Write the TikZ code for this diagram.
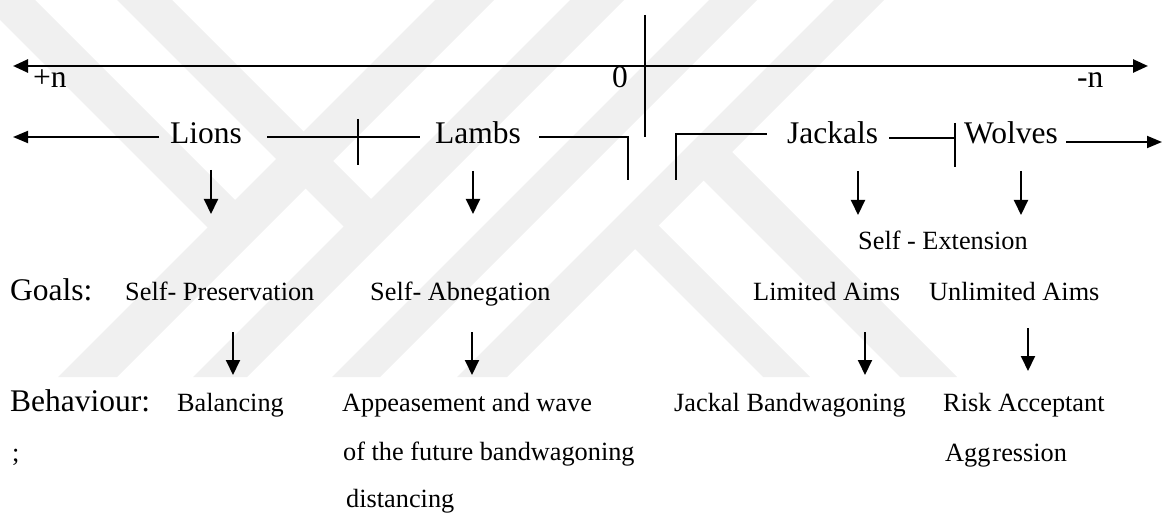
\documentclass[tikz,border=0pt]{standalone}
\usepackage{fontspec}
\setmainfont{Liberation Serif}
\usetikzlibrary{arrows.meta,calc}

\tikzset{
  big/.style={font=\fontsize{31.5}{36}\selectfont, inner sep=0pt, anchor=base west},
  small/.style={font=\fontsize{26.3}{30}\selectfont, inner sep=0pt, anchor=base west},
  axisline/.style={line width=2.6pt, {Triangle[length=15pt,width=13pt]}-{Triangle[length=15pt,width=13pt]}},
  seg/.style={line width=1.8pt},
  segarrow/.style={seg, -{Triangle[length=15pt,width=12pt]}},
  down/.style={line width=2pt, -{Triangle[length=15pt,width=14pt]}},
  emblem/.style={fill=black!6},
}

\begin{document}
\begin{tikzpicture}[x=1pt, y=-1pt]
  \useasboundingbox (0,0) rectangle (1168,513);

  % faint striped emblem in the background
  \begin{scope}
    \clip (0,0) rectangle (1168,513);
    \fill[emblem] (58,377) -- (117,377) -- (494,0) -- (435,0) -- cycle;
    \fill[emblem] (193,377) -- (247,377) -- (624,0) -- (570,0) -- cycle;
    \fill[emblem] (332,377) -- (380,377) -- (757,0) -- (709,0) -- cycle;
    \fill[emblem] (457,377) -- (507,377) -- (884,0) -- (834,0) -- cycle;
    \fill[emblem] (763,377) -- (810,377) -- (656.5,223.5) -- (633,247) -- cycle;
    \fill[emblem] (900,377) -- (957,377) -- (730,150) -- (701.5,178.5) -- cycle;
    \fill[emblem] (-20,0) -- (35,0) -- (237,202) -- (209.5,229.5) -- cycle;
    \fill[emblem] (117,0) -- (172,0) -- (373,201) -- (345.5,228.5) -- cycle;
  \end{scope}

  % main axis with the zero mark
  \coordinate (axL) at (13,66);
  \coordinate (axR) at (1148,66);
  \coordinate (vT) at (645,15);
  \coordinate (vB) at (645,137);
  \draw[axisline] (axL) -- (axR);
  \draw[line width=1.8pt] (vT) -- (vB);
  \node[big] (pn) at (33,88) {+n};
  \node[big] (zero) at (612,88) {0};
  \node[big] (mn) at (1077,88) {-n};

  % the four types of states
  \node[big] (lions) at (170,144) {Lions};
  \node[big] (lambs) at (435,144) {Lambs};
  \node[big] (jackals) at (787,144) {Jackals};
  \node[big] (wolves) at (964,144) {Wolves};

  \coordinate (rowL) at (13,137);
  \coordinate (rowR) at (1162,142);
  \coordinate (tickA) at (358,137);
  \coordinate (tickB) at (955,138);
  \coordinate (brL) at (628,180);
  \coordinate (brR) at (676,180);

  \draw[segarrow] ($(lions.base west)+(-11,-7)$) -- (rowL);
  \draw[seg] ($(lions.base east)+(25,-7)$) -- ($(lambs.base west)+(-15,-7)$);
  \draw[seg] ($(tickA)+(0,-18)$) -- ($(tickA)+(0,28)$);
  \draw[seg] ($(lambs.base east)+(18,-7)$) -| (brL);
  \draw[seg] (brR) |- ($(jackals.base west)+(-20,-10)$);
  \draw[seg] ($(jackals.base east)+(11,-6)$) -- (tickB);
  \draw[seg] ($(tickB)+(0,-15)$) -- ($(tickB)+(0,29)$);
  \draw[segarrow] ($(wolves.base east)+(8,-2)$) -- (rowR);

  % goals
  \node[big] (goals) at (10,301) {Goals:};
  \node[small] (pres) at (125,301) {Self- Preservation};
  \node[small] (abneg) at (370,301) {Self- Abnegation};
  \node[small] (ext) at (858,250) {Self - Extension};
  \node[small] (limited) at (753,301) {Limited Aims};
  \node[small] (unlimited) at (929,301) {Unlimited Aims};

  \draw[down] ($(lions.base west)+(41,26)$) -- ++(0,44);
  \draw[down] ($(lambs.base west)+(38,27)$) -- ++(0,43);
  \draw[down] ($(jackals.base west)+(71,27)$) -- ++(0,44);
  \draw[down] ($(wolves.base west)+(57,27)$) -- ++(0,44);

  % behaviour
  \node[big] (beh) at (10,411) {Behaviour:};
  \node[small] (semi) at (12,461) {;};
  \node[small] (bal) at (177,411) {Balancing};
  \node[small] (appA) at (342,411) {Appeasement and wave};
  \node[small] (appB) at (343,460) {of the future bandwagoning};
  \node[small] (appC) at (346,507) {distancing};
  \node[small] (jb) at (674,411) {Jackal Bandwagoning};
  \node[small] (riskA) at (943,411) {Risk Acceptant};
  \node[small] (riskB) at (945,461) {Agg\kern2pt ression};

  \draw[down] ($(pres.base west)+(108,31)$) -- ++(0,43);
  \draw[down] ($(abneg.base west)+(102,31)$) -- ++(0,43);
  \draw[down] ($(limited.base west)+(112,31)$) -- ++(0,43);
  \draw[down] ($(unlimited.base west)+(99,27)$) -- ++(0,43);
\end{tikzpicture}
\end{document}
